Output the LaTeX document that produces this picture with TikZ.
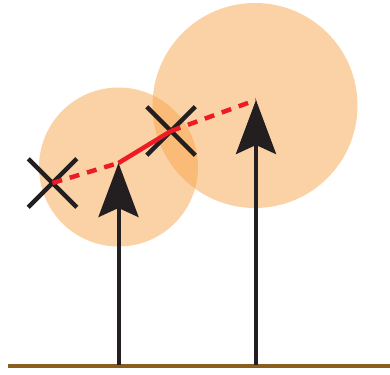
\documentclass[tikz,border=0pt]{standalone}
\usetikzlibrary{arrows.meta,shapes.misc}
\definecolor{blob}{RGB}{247,165,75}
\definecolor{redline}{RGB}{237,28,36}
\definecolor{ink}{RGB}{35,31,32}
\definecolor{ground}{RGB}{139,94,32}
\tikzset{
  blobfill/.style={fill=blob,fill opacity=0.5,draw=none},
  vec/.style={draw=ink,line width=4pt,-{Stealth[length=54pt,width=40pt,inset=9pt]}},
  crossmark/.style={cross out,draw=ink,line width=4.5pt,minimum size=44pt,inner sep=0pt},
  redsolid/.style={draw=redline,line width=4.5pt},
  reddash/.style={draw=redline,line width=4.5pt,dash pattern=on 10pt off 8pt},
}
\begin{document}
\begin{tikzpicture}[x=1pt,y=-1pt]
\useasboundingbox (0,0) rectangle (390,374);
\coordinate (c1) at (118.5,167);
\coordinate (c2) at (255,105.5);
\fill[blobfill] (c1) circle[radius=79.5];
\fill[blobfill] (c2) circle[radius=102.5];
\coordinate (gl) at (8,366);
\coordinate (gr) at (390,366);
\draw[draw=ground,line width=4.5pt] (gl) -- (gr);
\coordinate (b1) at (118.5,365);
\coordinate (t1) at (118.5,163);
\coordinate (b2) at (256,365);
\coordinate (t2) at (256,100);
\node[crossmark] (x1) at (52.5,183) {};
\node[crossmark] (x2) at (171,131) {};
\draw[reddash] (x1.center) -- (t1);
\draw[redsolid] (t1) -- (x2.center);
\draw[reddash] (x2.center) -- (t2);
\draw[vec] (b1) -- (t1);
\draw[vec] (b2) -- (t2);
\end{tikzpicture}
\end{document}
